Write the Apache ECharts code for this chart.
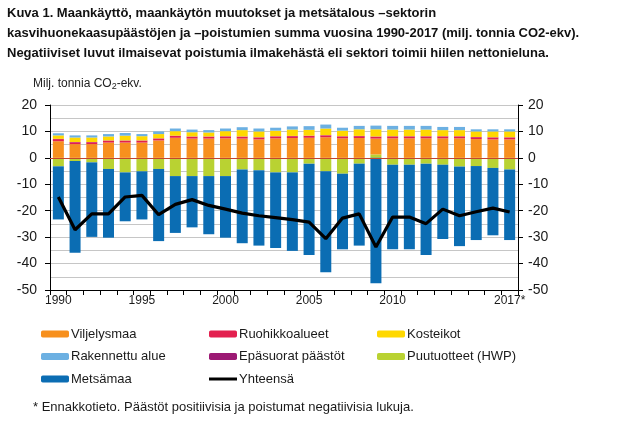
<!DOCTYPE html>
<html>
<head>
<meta charset="utf-8">
<script src="https://cdn.jsdelivr.net/npm/echarts@6/dist/echarts.min.js"></script>
<style>html,body{margin:0;padding:0;background:#fff;}#c{width:633px;height:422px;}</style>
</head>
<body>
<div id="c"></div>
<script>
const years = ['1990','1991','1992','1993','1994','1995','1996','1997','1998','1999','2000','2001','2002','2003','2004','2005','2006','2007','2008','2009','2010','2011','2012','2013','2014','2015','2016','2017*'];
const shownYears = ['1990','1995','2000','2005','2010','2017*'];
const viljelysmaa = [6.3,5.2,5.2,5.8,5.8,5.8,6.6,7.6,7.3,7.3,7.4,7.3,7.0,7.4,7.5,7.6,7.8,7.4,7.5,6.0,7.4,7.4,7.4,7.4,7.4,7.1,7.0,7.0];
const ruohikkoalueet = [0.8,0.7,0.7,0.7,0.7,0.7,0.7,0.7,0.7,0.7,0.7,0.7,0.7,0.7,0.7,0.7,0.7,0.7,0.7,0.7,0.7,0.7,0.7,0.7,0.7,0.7,0.7,0.7];
const epasuorat = [0.1,0.1,0.1,0.1,0.1,0.1,0.1,0.1,0.1,0.1,0.1,0.1,0.1,0.1,0.1,0.1,0.1,0.1,0.1,0.1,0.1,0.1,0.1,0.1,0.1,0.1,0.1,0.1];
const kosteikot = [1.3,1.7,1.7,1.5,1.8,1.6,1.6,1.7,1.6,1.5,1.9,2.4,2.2,2.1,2.4,2.2,2.5,2.1,2.5,2.7,2.5,2.5,2.5,2.3,2.3,2.1,2.2,2.2];
const rakennettu = [0.8,0.8,0.8,0.9,1.0,0.8,1.0,1.0,1.0,0.9,1.0,1.1,1.1,1.1,1.2,1.4,1.5,1.1,1.3,1.4,1.4,1.4,1.4,1.2,1.2,0.8,0.8,0.8];
const puutuotteet = [-3.2,-1.2,-1.7,-4.2,-5.5,-5.1,-4.2,-6.9,-6.9,-6.9,-6.9,-4.4,-4.7,-5.5,-5.5,-2.2,-5.1,-6.0,-2.2,1.3,-2.6,-2.6,-2.2,-2.6,-3.3,-3.1,-3.8,-4.4];
const metsamaa = [-20.1,-34.7,-28.2,-26.0,-18.5,-18.2,-27.3,-21.5,-19.4,-22.0,-23.3,-27.9,-28.5,-28.6,-29.7,-34.6,-38.2,-28.6,-31.0,-47.4,-32.0,-32.0,-34.6,-28.1,-30.1,-28.0,-25.5,-26.7];
const yhteensa = [-14.8,-27.2,-21.2,-21.2,-14.8,-14.2,-21.5,-17.6,-15.8,-18.0,-19.4,-20.9,-21.9,-22.6,-23.4,-24.3,-30.6,-22.8,-21.2,-33.7,-22.4,-22.4,-24.9,-19.4,-21.9,-20.4,-19.0,-20.5];

const FONT = 'Liberation Sans, Arial, sans-serif';
const chart = echarts.init(document.getElementById('c'), null, {renderer:'canvas'});

function bar(name, data, color) {
  return {name, type:'bar', stack:'s', data, barWidth:11, itemStyle:{color}, emphasis:{disabled:true}, silent:true};
}

const legendText = {fontFamily:FONT, fontSize:13, color:'#1a1a1a', lineHeight:16, padding:[0,0,0,-3]};
const legendBase = {orient:'vertical', itemWidth:28, itemHeight:7, itemGap:6.5, padding:0, selectedMode:false, textStyle:legendText, top:326};

chart.setOption({
  animation:false,
  title:{
    text:'Kuva 1. Maankäyttö, maankäytön muutokset ja metsätalous –sektorin\nkasvihuonekaasupäästöjen ja –poistumien summa vuosina 1990-2017 (milj. tonnia CO2-ekv).\nNegatiiviset luvut ilmaisevat poistumia ilmakehästä eli sektori toimii hiilen nettonieluna.',
    left:7, top:3, padding:0,
    textStyle:{fontFamily:FONT, fontSize:13, fontWeight:'bold', color:'#111', lineHeight:20}
  },
  graphic:[
    {type:'text', left:33, top:78, style:{text:'{a|Milj. tonnia CO}{s|2}{a|-ekv.}', rich:{a:{fontFamily:FONT, fontSize:12, fill:'#222'}, s:{fontFamily:FONT, fontSize:9, fill:'#222', padding:[6,0,0,0]}}}},
    {type:'text', left:33, top:401, style:{text:'* Ennakkotieto. Päästöt positiivisia ja poistumat negatiivisia lukuja.', fontFamily:FONT, fontSize:13, fill:'#1a1a1a'}}
  ],
  legend:[
    Object.assign({}, legendBase, {left:41, data:['Viljelysmaa','Rakennettu alue','Metsämaa']}),
    Object.assign({}, legendBase, {left:209, data:['Ruohikkoalueet','Epäsuorat päästöt',{name:'Yhteensä', icon:'path://M0,0H28V3H0Z'}]}),
    Object.assign({}, legendBase, {left:377, data:['Kosteikot','Puutuotteet (HWP)']})
  ],
  grid:{left:50, right:115, top:105, bottom:132, containLabel:false},
  xAxis:{
    type:'category', data:years, boundaryGap:true,
    axisLine:{show:true, onZero:false, lineStyle:{color:'#000', width:1}},
    axisTick:{show:true, interval:0, length:5, alignWithLabel:false, lineStyle:{color:'#000'}},
    axisLabel:{interval:(i,v)=>shownYears.includes(v), fontFamily:FONT, fontSize:12, color:'#1a1a1a', margin:5},
    splitLine:{show:false}
  },
  yAxis:[
    {type:'value', min:-50, max:20, interval:10, position:'left',
     axisLine:{show:true, lineStyle:{color:'#000'}},
     axisTick:{show:true, length:5, lineStyle:{color:'#000'}},
     axisLabel:{fontFamily:FONT, fontSize:14, color:'#1a1a1a', margin:13},
     splitLine:{show:true, lineStyle:{color:'#c6c6c6', width:1}},
     minorTick:{show:false, splitNumber:2},
     minorSplitLine:{show:true, lineStyle:{color:'#c6c6c6', width:1}}},
    {type:'value', min:-50, max:20, interval:10, position:'right',
     axisLine:{show:true, lineStyle:{color:'#000'}},
     axisTick:{show:true, length:5, lineStyle:{color:'#000'}},
     axisLabel:{fontFamily:FONT, fontSize:14, color:'#1a1a1a', margin:10},
     splitLine:{show:false}}
  ],
  series:[
    bar('Puutuotteet (HWP)', puutuotteet, '#b9d232'),
    bar('Metsämaa', metsamaa, '#0b6db3'),
    bar('Viljelysmaa', viljelysmaa, '#f7901e'),
    bar('Ruohikkoalueet', ruohikkoalueet, '#e3204f'),
    bar('Epäsuorat päästöt', epasuorat, '#9c1a74'),
    bar('Kosteikot', kosteikot, '#ffd800'),
    bar('Rakennettu alue', rakennettu, '#6cb0e2'),
    {name:'Yhteensä', type:'line', data:yhteensa, symbol:'none', z:5, silent:true,
     lineStyle:{color:'#000', width:3.2}, itemStyle:{color:'#000'},
     markLine:{silent:true, symbol:'none', label:{show:false}, data:[{yAxis:0}], lineStyle:{color:'#c2452d', width:1, type:'solid'}, z:3}}
  ]
});
</script>
</body>
</html>
